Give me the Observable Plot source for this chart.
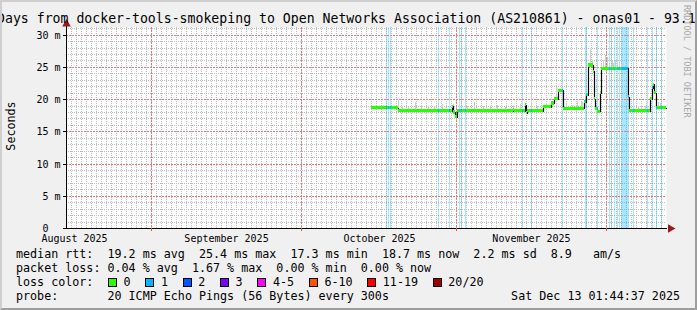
<!DOCTYPE html>
<html><head><meta charset="utf-8">
<script src="https://cdn.jsdelivr.net/npm/d3@7"></script>
<script src="https://cdn.jsdelivr.net/npm/@observablehq/plot@0.6"></script>
<style>
html,body{margin:0;padding:0;background:#f0f0f0;}
#wrap{position:relative;width:697px;height:310px;background:#f0f0f0;overflow:hidden;}
#plot,#over,#frame{position:absolute;left:0;top:0;}
#frame{width:697px;height:310px;box-sizing:border-box;border-top:2px solid #cfcfcf;border-left:2px solid #cfcfcf;border-bottom:2px solid #9e9e9e;border-right:2px solid #9e9e9e;pointer-events:none;}
#over text{font-family:"DejaVu Sans Mono",monospace;white-space:pre;}
</style></head><body>
<div id="wrap"><div id="plot"></div><svg id="over" width="697" height="310"></svg><div id="frame"></div></div>
<script>
// ---- data ----
const titleText = "Days from docker-tools-smokeping to Open Networks Association (AS210861) - onas01 - 93.1";
const xStart = "2025-08-15T00:00Z", xEnd = "2025-12-13T00:00Z";
const monthStarts = ["2025-08-01T00:00Z","2025-09-01T00:00Z","2025-10-01T00:00Z","2025-11-01T00:00Z","2025-12-01T00:00Z"];
const monthLabels = ["August 2025","September 2025","October 2025","November 2025"];
const yTicks = [0,5,10,15,20,25,30];
const yTickLabels = ["0\u00a0\u00a0","5 m","10 m","15 m","20 m","25 m","30 m"];

// median rtt (ms), step changes
const medianTimes = ["2025-10-15T00:00Z","2025-10-20T07:12Z","2025-10-31T02:24Z","2025-10-31T09:36Z","2025-10-31T19:12Z",
  "2025-11-01T04:48Z","2025-11-12T09:36Z","2025-11-12T14:24Z","2025-11-14T19:12Z","2025-11-15T00:00Z","2025-11-15T04:48Z",
  "2025-11-18T07:12Z","2025-11-19T21:36Z","2025-11-20T12:00Z","2025-11-21T07:12Z","2025-11-22T07:12Z",
  "2025-11-26T14:24Z","2025-11-26T21:36Z","2025-11-27T07:12Z","2025-11-28T07:12Z","2025-11-28T12:00Z","2025-11-28T19:12Z",
  "2025-11-29T04:48Z","2025-11-29T16:48Z","2025-11-29T21:36Z","2025-12-05T07:12Z","2025-12-05T12:00Z",
  "2025-12-09T19:12Z","2025-12-10T02:24Z","2025-12-10T07:12Z","2025-12-10T14:24Z","2025-12-10T21:36Z","2025-12-13T00:00Z"];
const medianValues = [18.7,18.2,18.9,18.0,17.3,
  18.2,18.4,18.2,19.1,17.9,18.2,
  18.8,19.4,20.1,21.4,18.6,
  19.6,20.7,25.3,24.3,20.1,18.5,
  18.1,21.0,24.8,20.4,18.2,
  20.1,21.8,22.3,21.0,18.7,18.7];

// smoke (top of ping spread, ms)
const smokeTimes = ["2025-10-16T00:00Z","2025-10-17T09:36Z","2025-10-19T04:48Z","2025-10-20T07:12Z","2025-10-21T04:48Z",
  "2025-10-22T09:36Z","2025-10-23T19:12Z","2025-10-25T00:00Z","2025-10-26T09:36Z","2025-10-27T14:24Z","2025-10-29T04:48Z",
  "2025-10-31T09:36Z","2025-11-03T04:48Z","2025-11-04T14:24Z","2025-11-06T09:36Z","2025-11-07T19:12Z","2025-11-09T04:48Z",
  "2025-11-10T19:12Z","2025-11-12T09:36Z","2025-11-13T19:12Z","2025-11-15T21:36Z","2025-11-17T04:48Z","2025-11-19T00:00Z",
  "2025-11-21T00:00Z","2025-11-23T00:00Z","2025-11-24T04:48Z","2025-11-25T04:48Z","2025-11-26T02:24Z","2025-11-27T19:12Z",
  "2025-11-28T02:24Z","2025-11-30T00:00Z","2025-11-30T09:36Z","2025-11-30T19:12Z","2025-12-01T04:48Z","2025-12-01T14:24Z",
  "2025-12-02T02:24Z","2025-12-02T09:36Z","2025-12-02T19:12Z","2025-12-03T04:48Z","2025-12-03T14:24Z","2025-12-04T00:00Z",
  "2025-12-04T09:36Z","2025-12-04T19:12Z","2025-12-07T09:36Z","2025-12-08T00:00Z","2025-12-08T19:12Z","2025-12-11T09:36Z",
  "2025-12-11T19:12Z","2025-12-12T09:36Z"];
const smokeTops = [19.0,19.1,19.0,19.9,18.9,
  18.8,19.6,18.9,19.0,18.8,19.2,
  19.3,18.9,19.6,19.0,18.8,19.1,
  18.8,19.1,19.3,24.0,18.9,19.4,
  21.9,19.2,19.1,19.5,19.6,27.6,
  26.1,25.6,26.1,26.9,26.6,25.6,
  25.9,25.6,26.0,25.5,25.8,25.4,
  25.6,25.3,19.0,19.1,18.9,19.5,
  19.4,19.0];

// loss events (1/20 lost): start and number of RRA steps
const lossStarts = ["2025-10-17T21:36Z","2025-10-18T09:36Z","2025-10-18T19:12Z","2025-10-23T21:36Z","2025-10-28T07:12Z",
  "2025-10-30T12:00Z","2025-11-01T14:24Z","2025-11-02T00:00Z","2025-11-02T16:48Z","2025-11-14T02:24Z","2025-11-15T21:36Z",
  "2025-11-22T04:48Z","2025-11-26T16:48Z","2025-11-27T00:00Z","2025-11-29T02:24Z","2025-12-01T14:24Z","2025-12-01T21:36Z",
  "2025-12-02T14:24Z","2025-12-03T02:24Z","2025-12-03T12:00Z","2025-12-04T00:00Z","2025-12-06T07:12Z","2025-12-09T04:48Z",
  "2025-12-10T04:48Z","2025-12-11T00:00Z","2025-12-11T21:36Z"];
const lossSteps = [1,1,1,1,1, 1,1,1,1,1,1, 1,1,1,1,1,1, 1,1,1,8,1,1, 1,1,1];
const rraStepHours = 4.8;

const lossColorLabels = ["0","1","2","3","4-5","6-10","11-19","20/20"];
const lossColors = ["#26ff00","#00b8ff","#0059ff","#7e00ff","#ff00ff","#ff5500","#ff0000","#a00000"];
const rttValues = [19.2,25.4,17.3,18.7];
const rttNames = ["avg","max","min","now"];
const rttSd = 2.2, amPerS = 8.9;
const lossValues = [0.04,1.67,0.00,0.00];
const lossNames = ["avg","max","min","now"];
const probeText = "20 ICMP Echo Pings (56 Bytes) every 300s";
const dateText = "Sat Dec 13 01:44:37 2025";

// ---- derived ----
const P = s => new Date(s);
const stepMs = rraStepHours * 3600e3;
const medT = medianTimes.map(P);
const medianAt = t => medianValues[Math.max(0, d3.bisectRight(medT, t) - 1)];
const medLine = medT.map((t, i) => ({t, v: medianValues[i]}));
const segments = medT.slice(0, -1).map((t, i) => ({t1: t, t2: medT[i + 1], v: medianValues[i]}));
const smoke = smokeTimes.map((s, i) => ({t1: P(s), t2: new Date(+P(s) + stepMs), lo: medianAt(P(s)), hi: smokeTops[i]}));
const loss = lossStarts.map((s, i) => ({t1: P(s), t2: new Date(+P(s) + lossSteps[i] * stepMs)}));
const lossPieces = [];
lossStarts.forEach((s, i) => {
  for (let k = 0; k < lossSteps[i]; k++) {
    const t = new Date(+P(s) + k * stepMs);
    if (t >= medT[0] && t < medT[medT.length - 1]) lossPieces.push({t1: t, t2: new Date(+t + stepMs), v: medianAt(t)});
  }
});
const x0 = P(xStart), x1 = P(xEnd);
const yMax = 31.2;
const mStarts = monthStarts.map(P);
const monthMid = monthLabels.map((_, i) => new Date((+mStarts[i] + +mStarts[i + 1]) / 2));
const xLabelOf = new Map(monthMid.map((d, i) => [+d, monthLabels[i]]));
const yLabelOf = new Map(yTicks.map((v, i) => [v, yTickLabels[i]]));
const minorY = d3.range(1, 32).filter(v => v % 5 !== 0);
const majorY = yTicks.filter(v => v > 0);
const days = d3.utcDay.range(d3.utcDay.offset(x0, 1), x1);
const majorX = mStarts.filter(d => d > x0 && d < x1);

const band = 0.24;
const chart = Plot.plot({
  width: 697, height: 310,
  marginLeft: 66, marginRight: 31, marginTop: 27, marginBottom: 82,
  style: {background: "transparent", fontFamily: "DejaVu Sans Mono", fontSize: "10px", color: "#000", overflow: "visible"},
  x: {type: "utc", domain: [x0, x1], round: true},
  y: {domain: [0, yMax], round: true},
  marks: [
    Plot.frame({fill: "#ffffff", stroke: "none"}),
    Plot.ruleX(days, {stroke: "#bdbdbd", strokeDasharray: "1,1"}),
    Plot.ruleY(minorY, {stroke: "#bdbdbd", strokeDasharray: "1,1"}),
    Plot.rect(loss, {x1: "t1", x2: "t2", fill: "#00b8ff", fillOpacity: 0.34, shapeRendering: "crispEdges"}),
    Plot.ruleX(majorX, {stroke: "#ec7a7a", strokeDasharray: "2,1"}),
    Plot.ruleY(majorY, {stroke: "#ec7a7a", strokeDasharray: "2,1"}),
    Plot.rect(smoke, {x1: "t1", x2: "t2", y1: "lo", y2: "hi", fill: "#cdcdcd", shapeRendering: "crispEdges"}),
    Plot.line(medLine, {x: "t", y: "v", curve: "step-after", stroke: "#000", strokeWidth: 1.2}),
    Plot.rect(segments, {x1: "t1", x2: "t2", y1: d => d.v - band, y2: d => d.v + band, fill: "#26ff00", shapeRendering: "crispEdges"}),
    Plot.rect(lossPieces, {x1: "t1", x2: "t2", y1: d => d.v - band, y2: d => d.v + band, fill: "#00b8ff", shapeRendering: "crispEdges"}),
    Plot.ruleY([0], {stroke: "#000", insetRight: -1, insetLeft: -3}),
    Plot.ruleX([x0], {stroke: "#000", insetTop: -1}),
    Plot.dot([0], {x: () => x1, y: () => 0, symbol: "triangle", r: 3.2, rotate: 90, dx: 4, fill: "#9a1a1a", stroke: "none"}),
    Plot.dot([0], {x: () => x0, y: () => yMax, symbol: "triangle", r: 3.2, dy: -3.5, fill: "#9a1a1a", stroke: "none"}),
    Plot.axisY(yTicks, {tickSize: 3, tickPadding: 3, tickFormat: d => yLabelOf.get(d), fontSize: 10, label: null}),
    Plot.axisX(majorX, {tickSize: 3, tickFormat: () => "", stroke: "#e05050", label: null}),
    Plot.axisX(monthMid, {tickSize: 0, tickPadding: 6, tickFormat: d => xLabelOf.get(+d), fontSize: 10, label: null})
  ]
});
document.getElementById("plot").appendChild(chart);

// ---- title, axis title, legend ----
const over = d3.select("#over");
const T = (x, y, s, size, extra) => {
  const t = over.append("text").attr("x", x).attr("y", y).attr("xml:space", "preserve").style("font-size", size).text(s);
  if (extra) extra(t);
  return t;
};
T(-3, 23, titleText, "13.2px");
over.append("text").attr("transform", "translate(15,126) rotate(-90)").attr("text-anchor", "middle")
  .style("font-size", "11.7px").text("Seconds");
over.append("text").attr("transform", "translate(684,5) rotate(90)").style("font-size", "8.5px")
  .attr("fill", "#a8a8a8").text("RRDTOOL / TOBI OETIKER");

const fs = "11.7px", cw = 7.04;
const row1 = "median rtt:  " + rttValues.map((v, i) => `${v.toFixed(1)} ms ${rttNames[i]}`).join("  ")
  + `  ${rttSd.toFixed(1)} ms sd  ${amPerS.toFixed(1)}   am/s`;
const row2 = "packet loss: " + lossValues.map((v, i) => `${v.toFixed(2)} % ${lossNames[i]}`).join("  ");
T(16, 258, row1, fs);
T(16, 272, row2, fs);
T(16, 286, "loss color:", fs);
let bx = 108;
lossColorLabels.forEach((lab, i) => {
  over.append("rect").attr("x", Math.round(bx) + 0.5).attr("y", 278.5).attr("width", 8).attr("height", 8)
    .attr("fill", lossColors[i]).attr("stroke", "#000").attr("stroke-width", 1);
  T(bx + 15.6, 286, lab, fs);
  bx = bx + 15.6 + lab.length * cw + 14.7;
});
T(16, 300, "probe:       " + probeText, fs);
T(680, 300, dateText, fs, t => t.attr("text-anchor", "end"));
</script>
</body></html>
